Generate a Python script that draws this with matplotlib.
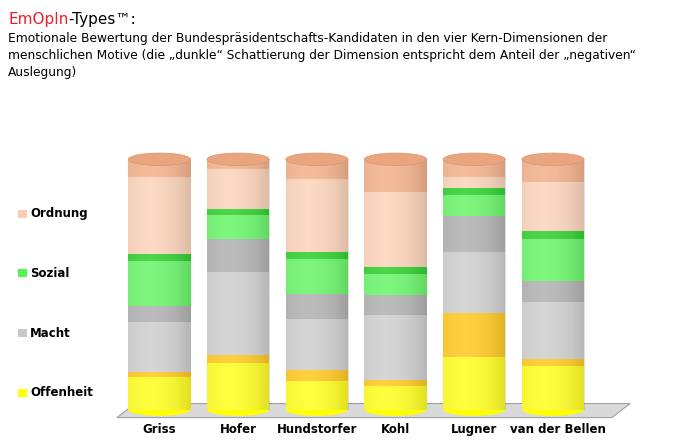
import numpy as np
import matplotlib.pyplot as plt
from matplotlib.patches import Ellipse, Polygon

candidates = ["Griss", "Hofer", "Hundstorfer", "Kohl", "Lugner", "van der Bellen"]
# shares in % (light part, dark "negative" part), bottom to top
offen_pos = [13.2, 18.8, 11.6, 9.6, 21.2, 17.6]
offen_neg = [2.0, 3.2, 4.4, 2.4, 17.2, 2.8]
macht_pos = [19.6, 32.8, 20.0, 25.6, 24.4, 22.4]
macht_neg = [6.4, 13.2, 10.0, 8.0, 14.4, 8.4]
sozial_pos = [18.0, 9.6, 14.0, 8.4, 8.4, 16.8]
sozial_neg = [2.8, 2.4, 2.8, 2.8, 2.8, 3.2]
ordnung_pos = [30.8, 16.0, 29.2, 30.0, 4.4, 19.6]
ordnung_neg = [7.2, 4.0, 8.0, 13.2, 7.2, 9.2]
legend_labels = ["Offenheit", "Macht", "Sozial", "Ordnung"]

segments = [offen_pos, offen_neg, macht_pos, macht_neg,
            sozial_pos, sozial_neg, ordnung_pos, ordnung_neg]
colors = ["#FFFF00", "#FFC000", "#C8C8C8", "#A6A6A6",
          "#55F455", "#10C810", "#FBCDB0", "#F2A67A"]

fig = plt.figure(figsize=(6.74, 4.44), dpi=100)
t1 = fig.text(0.012, 0.955, "EmOpIn", color="#E8202A", fontsize=11, va="center")
fig.canvas.draw()
bb = t1.get_window_extent()
fig.text(bb.x1 / fig.bbox.width, 0.955, "-Types™:", color="black", fontsize=11, va="center")
fig.text(0.012, 0.875, "Emotionale Bewertung der Bundespräsidentschafts-Kandidaten in den vier Kern-Dimensionen der\n"
         "menschlichen Motive (die „dunkle“ Schattierung der Dimension entspricht dem Anteil der „negativen“\n"
         "Auslegung)", fontsize=8.8, va="center", linespacing=1.4)

ax = fig.add_axes([0.17, 0.055, 0.745, 0.62])
ax.axis("off")

floor = Polygon([[-0.54, -3.2], [5.75, -3.2], [5.98, 2.4], [-0.31, 2.4]],
                closed=True, facecolor="#D9D9D9", edgecolor="#A0A0A0", lw=0.8, clip_on=False)
ax.add_patch(floor)

x = np.arange(len(candidates))
w = 0.79
eh = 5.0
grad = np.linspace(0, 1, 100)
shade = np.abs(grad - 0.35) ** 1.3
for i in range(len(candidates)):
    bottom = 0
    for seg, c in zip(segments, colors):
        v = seg[i]
        ax.bar(x[i], v, w, bottom=bottom, color=c, zorder=2)
        bottom += v
    ax.add_patch(Ellipse((x[i], 0), w, eh, facecolor=colors[0], zorder=1))
    ax.imshow(np.tile(shade, (2, 1)), extent=[x[i] - w / 2, x[i] + w / 2, 0, bottom],
              cmap="Greys", alpha=0.25, aspect="auto", zorder=3, vmin=0, vmax=1)
    ax.add_patch(Ellipse((x[i], bottom), w, eh, facecolor="#E9A67E", edgecolor="#D89470",
                         lw=0.5, zorder=4))
    ax.text(x[i] + (0.06 if i == 5 else 0), -8, candidates[i], ha="center", va="center",
            fontsize=8.5, fontweight="bold")

ax.set_xlim(-0.57, 5.81)
ax.set_ylim(-4, 106)

leg_y = [393, 333, 273, 214]
leg_c = [colors[0], colors[2], colors[4], colors[6]]
for lab, py, c in zip(legend_labels, leg_y, leg_c):
    fy = 1 - py / 444
    fig.patches.append(plt.Rectangle((0.027, fy - 0.01), 0.013, 0.02, transform=fig.transFigure,
                                     facecolor=c, edgecolor="none"))
    fig.text(0.045, fy, lab, fontsize=8.5, fontweight="bold", va="center")

fig.savefig("out.png", dpi=100)
